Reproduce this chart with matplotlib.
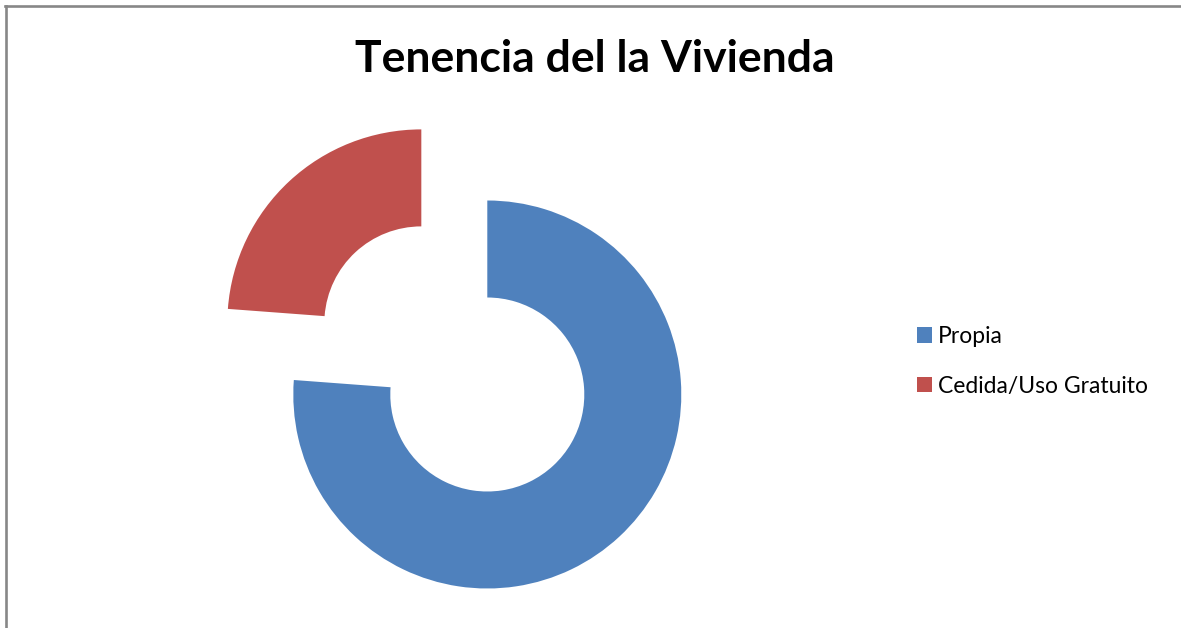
import numpy as np
import matplotlib
matplotlib.use('Agg')
from matplotlib import pyplot as plt
from matplotlib.lines import Line2D

# data
labels = ['Propia', 'Cedida/Uso Gratuito']
values = [16, 5]
colors = ['#4F81BD', '#C0504D']
explode = [0, 0.5]

W, H = 1181, 628
fig = plt.figure(figsize=(W / 100, H / 100), dpi=100)

# donut centre and radius in pixels
cx, cy, r = 487.3, 394.5, 194.0
ax = fig.add_axes([0, 0, 1, 1])
wedges, _ = ax.pie(values, colors=colors, explode=explode, startangle=90,
                   counterclock=False, radius=1.0,
                   wedgeprops=dict(width=0.5, edgecolor='none'))
ax.set_aspect('auto')
ax.set_xlim(-cx / r, (W - cx) / r)
ax.set_ylim(-(H - cy) / r, cy / r)
ax.axis('off')

fig.text(595 / W, 1 - 72 / H, 'Tenencia del la Vivienda', ha='center',
         va='baseline', fontsize=32, fontweight='bold', family='Lato')

fig.legend(wedges, labels, loc='upper left', bbox_to_anchor=(917 / W, 1 - 326 / H),
           frameon=False, handlelength=0.65, handleheight=0.65,
           handletextpad=0.26, labelspacing=1.25, borderpad=0, borderaxespad=0,
           prop=dict(family='Lato', size=16.5))

# chart area border (top and left edges only visible)
fig.add_artist(Line2D([5.5 / W, 5.5 / W], [0, 1 - 5.5 / H], color='#878787',
                      lw=1.9, transform=fig.transFigure))
fig.add_artist(Line2D([4.5 / W, 1], [1 - 5.5 / H, 1 - 5.5 / H], color='#878787',
                      lw=1.9, transform=fig.transFigure))

fig.savefig('out.png', dpi=100)
